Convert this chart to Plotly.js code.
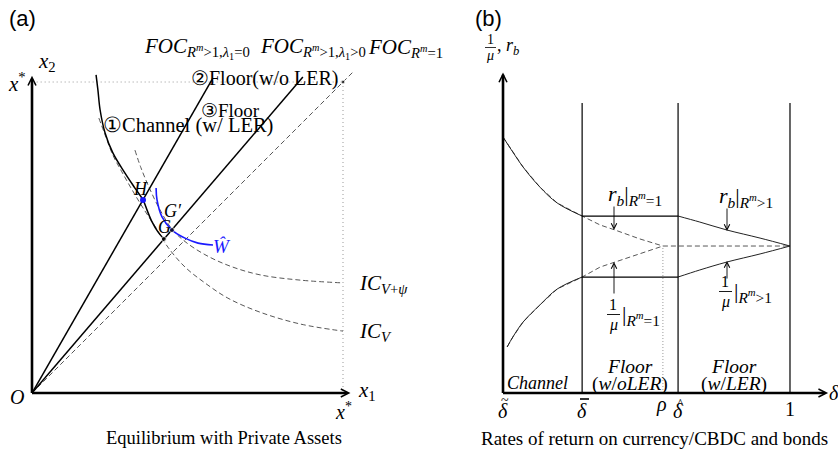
<!DOCTYPE html>
<html><head><meta charset="utf-8">
<script src="https://cdn.plot.ly/plotly-3.0.1.min.js"></script>
<style>html,body{margin:0;padding:0;background:#fff}#c{width:838px;height:453px}</style>
</head><body><div id="c"></div>
<script>
// ---------- Panel (a): model units, x* = 1 ----------
const xStar = 1.0;
const focLambda0X = [0, 0.582];          // FOC R^m>1, lambda1=0
const focLambda0Y = [0, 1.013];
const focLambdaPosX = [0, 0.871];        // FOC R^m>1, lambda1>0
const focLambdaPosY = [0, 1.016];
const focRm1X = [0, 1.03];               // FOC R^m=1 (45 degree)
const focRm1Y = [0, 1.03];
const channelX = [0.206,0.212,0.219,0.235,0.260,0.299,0.331,0.357,0.370,0.386,0.405,0.424];
const channelY = [1.023,0.974,0.910,0.836,0.772,0.707,0.659,0.621,0.588,0.550,0.518,0.495];
const icVX = [0.215,0.235,0.260,0.289,0.322,0.357,0.395,0.437,0.492,0.556,0.630,0.733,0.862,1.0];
const icVY = [0.884,0.830,0.765,0.711,0.653,0.595,0.537,0.469,0.405,0.354,0.305,0.260,0.222,0.199];
const icVpsiX = [0.331,0.350,0.377,0.410,0.450,0.492,0.556,0.637,0.733,0.862,1.0];
const icVpsiY = [0.781,0.725,0.660,0.592,0.527,0.487,0.445,0.408,0.380,0.363,0.354];
const welfareX = [0.399,0.402,0.418,0.450,0.492,0.534,0.582];
const welfareY = [0.659,0.621,0.566,0.524,0.498,0.482,0.476];
const pointH = [0.357, 0.621];
const pointG = [0.424, 0.495];
const pointGp = [0.450, 0.524];

// ---------- Panel (b): delta on x, rates on y ----------
const deltaTilde = 0.30, deltaBar = 0.493, rho = 0.69, deltaHat = 0.727, deltaOne = 1.0;
const levelOne = 1.0;
const rbChannelX = [0.300,0.324,0.349,0.390,0.432,0.493];
const rbChannelY = [1.741,1.639,1.537,1.401,1.293,1.204];
const rbRm1DashX = [0.300,0.324,0.349,0.390,0.432,0.493,0.537,0.573,0.634,0.690];
const rbRm1DashY = [1.741,1.639,1.537,1.401,1.293,1.204,1.143,1.109,1.048,1.000];
const muChannelX = [0.310,0.324,0.349,0.390,0.432,0.493];
const muChannelY = [0.313,0.381,0.483,0.599,0.707,0.789];
const muRm1DashX = [0.310,0.324,0.349,0.390,0.432,0.493,0.537,0.573,0.634,0.690];
const muRm1DashY = [0.313,0.381,0.483,0.599,0.707,0.789,0.857,0.891,0.952,1.000];
const rbFloorFlat = 1.204, muFloorFlat = 0.789;
const rbLerX = [0.727,0.780,0.846,0.927,1.0];
const rbLerY = [1.204,1.163,1.109,1.054,1.0];
const muLerX = [0.727,0.780,0.846,0.927,1.0];
const muLerY = [0.789,0.837,0.891,0.946,1.0];
const regionTop = 1.973;

const W = 838, H = 453;
const px = v => v / W, py = v => 1 - v / H;
const SERIF = 'Liberation Serif, DejaVu Serif, serif';
const SANS = 'Liberation Sans, Arial, sans-serif';

function ln(x, y, opt, ax2) {
  const t = {x, y, mode: 'lines', hoverinfo: 'skip',
    line: Object.assign({color: '#000', width: 1.5}, opt || {})};
  if (ax2) { t.xaxis = 'x2'; t.yaxis = 'y2'; }
  return t;
}
const dashA = {color: '#444', width: 0.9, dash: '5px,3px'};
const traces = [
  // panel a
  ln([0.015, xStar], [xStar, xStar], {color: '#999', width: 1, dash: '1px,3px'}),
  ln([xStar, xStar], [xStar, 0], {color: '#999', width: 1, dash: '1px,3px'}),
  ln(focRm1X, focRm1Y, dashA),
  ln(icVX, icVY, Object.assign({shape: 'spline'}, dashA)),
  ln(icVpsiX, icVpsiY, Object.assign({shape: 'spline'}, dashA)),
  ln(focLambda0X, focLambda0Y),
  ln(focLambdaPosX, focLambdaPosY),
  ln(channelX, channelY, {shape: 'spline'}),
  ln(welfareX, welfareY, {shape: 'spline', color: '#1a1aff', width: 1.6}),
  ln([0, 1.012], [0, 0], {width: 2.6}),
  ln([0, 0], [0, 1.01], {width: 2.6}),
  {x: [pointG[0], pointGp[0], xStar], y: [pointG[1], pointGp[1], xStar], mode: 'markers', hoverinfo: 'skip',
   marker: {color: '#000', size: [5, 5, 4]}},
  {x: [pointH[0]], y: [pointH[1]], mode: 'markers', hoverinfo: 'skip', marker: {color: '#1a1aff', size: 6}},
  // panel b
  ln(rbRm1DashX, rbRm1DashY, {color: '#444', width: 0.9, dash: '5px,3px'}, true),
  ln(muRm1DashX, muRm1DashY, {color: '#444', width: 0.9, dash: '5px,3px'}, true),
  ln([rho, deltaOne], [levelOne, levelOne], {color: '#444', width: 0.9, dash: '5px,3px'}, true),
  ln([rho, rho], [0, levelOne], {color: '#999', width: 1, dash: '1px,2px'}, true),
  ln(rbChannelX, rbChannelY, {shape: 'spline', color: '#222', width: 1}, true),
  ln(muChannelX, muChannelY, {shape: 'spline', color: '#222', width: 1}, true),
  ln([deltaBar, deltaHat], [rbFloorFlat, rbFloorFlat], {width: 1.2}, true),
  ln([deltaBar, deltaHat], [muFloorFlat, muFloorFlat], {width: 1.2}, true),
  ln(rbLerX, rbLerY, {shape: 'spline', color: '#222', width: 1}, true),
  ln(muLerX, muLerY, {shape: 'spline', color: '#222', width: 1}, true),
  ln([deltaBar, deltaBar], [0, regionTop], {width: 1.2}, true),
  ln([deltaHat, deltaHat], [0, regionTop], {width: 1.2}, true),
  ln([deltaOne, deltaOne], [0, regionTop], {width: 1.2}, true),
  ln([deltaTilde, 1.085], [0, 0], {width: 2.4}, true),
  ln([deltaTilde, deltaTilde], [0, 2.165], {width: 2.6}, true),
];

function T(text, x, y, o) {
  return Object.assign({text, x: px(x), y: py(y), xref: 'paper', yref: 'paper', showarrow: false,
    xanchor: 'center', yanchor: 'middle', font: {family: SERIF, size: 20, color: '#000'}}, o || {});
}
function arrowHead(x, y, ax, ay, xr, yr) {
  return {text: '', x, y, ax, ay, xref: xr, yref: yr, axref: xr, ayref: yr, showarrow: true,
    arrowhead: 5, arrowsize: 1.3, arrowwidth: 1.2, arrowcolor: '#000', standoff: 0};
}
function thinArrow(x, y, ay) {
  return {text: '', x: px(x), y: py(y), xref: 'paper', yref: 'paper', ax: 0, ay, showarrow: true,
    arrowhead: 5, arrowsize: 1.2, arrowwidth: 0.9, arrowcolor: '#000', standoff: 0};
}
const f = (s, o) => Object.assign({font: {family: SERIF, size: s, color: '#000'}}, o || {});
const fl = (s) => ({xanchor: 'left', font: {family: SERIF, size: s, color: '#000'}});
const ann = [
  T('(a)', 7, 19, {xanchor: 'left', font: {family: SANS, size: 22, color: '#000'}}),
  T('(b)', 473, 19, {xanchor: 'left', font: {family: SANS, size: 22, color: '#000'}}),
  T('<i>FOC</i><sub><i>R<sup>m</sup></i>&gt;1,<i>λ</i><sub>1</sub>=0</sub>', 142, 48, fl(21)),
  T('<i>FOC</i><sub><i>R<sup>m</sup></i>&gt;1,<i>λ</i><sub>1</sub>&gt;0</sub>', 258, 48, fl(21)),
  T('<i>FOC</i><sub><i>R<sup>m</sup></i>=1</sub>', 366, 48, fl(21)),
  T('②Floor(w/o LER)', 189, 78, fl(20)),
  T('③Floor', 199, 110, fl(19)),
  T('①Channel (w/ LER)', 101, 126, fl(20.5)),
  T('<i>x</i><sub>2</sub>', 36, 62, fl(21)),
  T('<i>x</i><sup>*</sup>', 28, 82, {xanchor: 'right', font: {family: SERIF, size: 21, color: '#000'}}),
  T('<i>O</i>', 17, 397, f(20)),
  T('<i>x</i><sub>1</sub>', 356, 391, fl(21)),
  T('<i>x</i><sup>*</sup>', 343, 411, f(20)),
  T('<i>IC</i><sub><i>V</i>+<i>ψ</i></sub>', 357, 284, fl(21)),
  T('<i>IC</i><sub><i>V</i></sub>', 357, 332, fl(21)),
  T('<i>H</i>', 140, 189, f(18)),
  T('<i>G′</i>', 173, 211, f(18)),
  T('<i>G</i>', 164, 227, f(18)),
  T('<i>Ŵ</i>', 222, 246, {font: {family: SERIF, size: 19, color: '#1a1aff'}}),
  T('Equilibrium with Private Assets', 224, 438, f(18.5)),
  // panel b
  T('1', 490, 39, f(14)),
  T('<i>μ</i>', 490, 56, f(14)),
  T(', <i>r<sub>b</sub></i>', 495, 47, fl(18)),
  T('<i>δ</i>', 503, 411, f(20)),
  T('~', 505, 400, f(14)),
  T('<i>δ</i>', 582, 411, f(20)),
  T('<i>δ</i>', 678, 411, f(20)),
  T('^', 680, 404, f(14)),
  T('<i>ρ</i>', 661, 404, f(20)),
  T('1', 790, 409, f(20)),
  T('<i>δ</i>', 834, 393, f(20)),
  T('<i>Channel</i>', 537, 383, f(18)),
  T('<i>Floor</i>', 630, 366, f(19.5)),
  T('(<i>w</i>/<i>oLER</i>)', 630, 384, f(19.5)),
  T('<i>Floor</i>', 734, 366, f(19.5)),
  T('(<i>w</i>/<i>LER</i>)', 734, 384, f(19.5)),
  T('<i>r<sub>b</sub></i>|<sub><i>R<sup>m</sup></i>=1</sub>', 606, 195, fl(22)),
  T('<i>r<sub>b</sub></i>|<sub><i>R<sup>m</sup></i>&gt;1</sub>', 717, 197, fl(22)),
  T('1', 613, 304, f(16)),
  T('<i>μ</i>', 613, 325, f(16)),
  T('|<sub><i>R<sup>m</sup></i>=1</sub>', 620, 315, fl(22)),
  T('1', 725, 281, f(16)),
  T('<i>μ</i>', 725, 302, f(16)),
  T('|<sub><i>R<sup>m</sup></i>&gt;1</sub>', 732, 292, fl(22)),
  T('Rates of return on currency/CBDC and bonds', 654, 438, f(19)),
  // arrows
  arrowHead(1.024, 0, 0.99, 0, 'x', 'y'),
  arrowHead(0, 1.02, 0, 0.99, 'x', 'y'),
  arrowHead(1.093, 0, 1.07, 0, 'x2', 'y2'),
  arrowHead(deltaTilde, 2.18, deltaTilde, 2.12, 'x2', 'y2'),
  thinArrow(614, 230, -25),
  thinArrow(614, 262, 33),
  thinArrow(727, 231, -24),
  thinArrow(727, 261, 19),
];
const shapes = [
  {type: 'line', xref: 'paper', yref: 'paper', x0: px(485), x1: px(496), y0: py(47.5), y1: py(47.5), line: {color: '#000', width: 0.8}},
  {type: 'line', xref: 'paper', yref: 'paper', x0: px(607), x1: px(620), y0: py(314.5), y1: py(314.5), line: {color: '#000', width: 0.9}},
  {type: 'line', xref: 'paper', yref: 'paper', x0: px(719), x1: px(732), y0: py(291.5), y1: py(291.5), line: {color: '#000', width: 0.9}},
  {type: 'line', xref: 'paper', yref: 'paper', x0: px(580), x1: px(589), y0: py(399), y1: py(399), line: {color: '#000', width: 1.6}},
];
const layout = {
  width: W, height: H, margin: {l: 0, r: 0, t: 0, b: 0}, showlegend: false,
  paper_bgcolor: '#fff', plot_bgcolor: 'rgba(0,0,0,0)',
  xaxis: {domain: [0, 460 / W], range: [-0.1029, 1.3762], visible: false, fixedrange: true},
  yaxis: {domain: [0, 1], range: [-0.1929, 1.2637], visible: false, fixedrange: true},
  xaxis2: {domain: [460 / W, 1], range: [0.1951, 1.1171], visible: false, anchor: 'y2', fixedrange: true},
  yaxis2: {domain: [0, 1], range: [-0.408, 2.6735], visible: false, anchor: 'x2', fixedrange: true},
  annotations: ann, shapes
};
Plotly.newPlot('c', traces, layout, {staticPlot: true, displayModeBar: false});
</script></body></html>
